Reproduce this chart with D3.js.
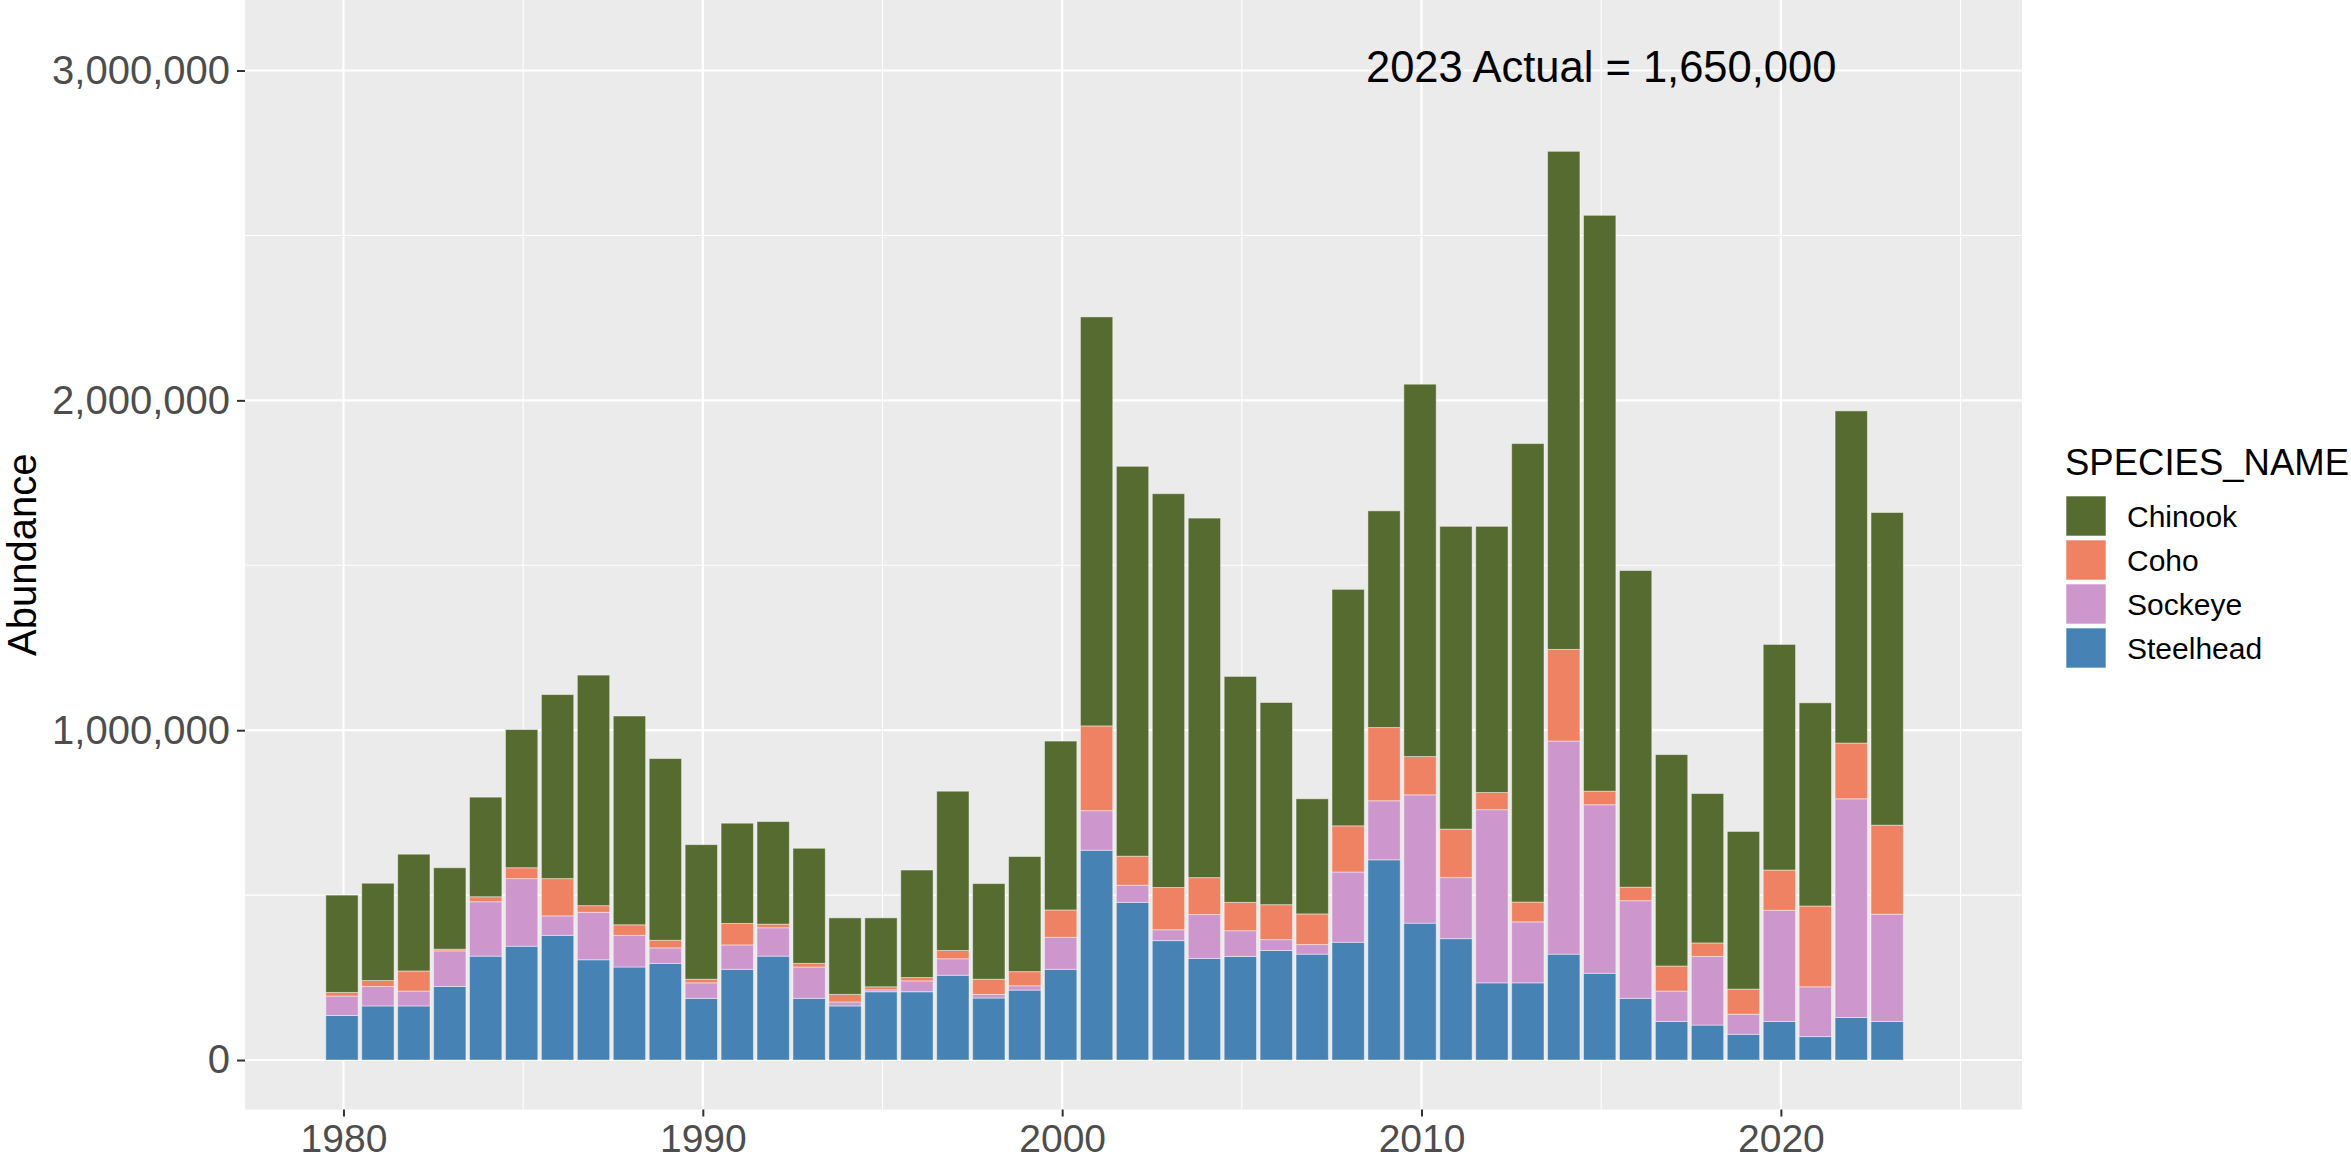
<!DOCTYPE html>
<html>
<head>
<meta charset="utf-8">
<script src="https://cdn.jsdelivr.net/npm/d3@7"></script>
<style>
html,body{margin:0;padding:0;background:#fff;overflow:hidden;}
svg{display:block;font-family:"Liberation Sans",Arial,Helvetica,sans-serif;}
</style>
</head>
<body>
<svg id="chart" width="2351" height="1164"></svg>
<script>
const years = [1980,1981,1982,1983,1984,1985,1986,1987,1988,1989,
  1990,1991,1992,1993,1994,1995,1996,1997,1998,1999,
  2000,2001,2002,2003,2004,2005,2006,2007,2008,2009,
  2010,2011,2012,2013,2014,2015,2016,2017,2018,2019,
  2020,2021,2022,2023];
// values in fish
const steelhead = [135,164,164,223,315,345,378,304,282,293,
  187,275,315,187,164,207,207,257,188,212,
  275,636,478,362,308,314,332,321,357,607,
  415,368,234,234,321,263,187,117,106,78,
  117,71,129,117].map(v=>v*1000);
const sockeye = [59,59,45,108,165,205,59,144,96,47,
  47,74,86,95,12,6,33,50,11,13,
  97,120,52,33,133,78,33,29,213,179,
  389,185,525,185,646,511,296,92,208,61,
  337,151,663,325].map(v=>v*1000);
const coho = [11,18,61,5,15,33,113,20,32,23,
  11,65,11,11,23,9,10,25,46,43,
  83,257,88,128,112,86,106,93,140,222,
  116,147,52,60,278,41,41,76,41,76,
  122,245,169,270].map(v=>v*1000);
const chinook = [295,295,354,247,302,419,558,699,633,551,
  408,304,311,349,232,209,326,483,290,349,
  512,1240,1182,1194,1090,685,613,349,717,657,
  1129,918,807,1390,1510,1746,960,641,453,478,
  684,616,1007,948].map(v=>v*1000);
const species = ["Chinook","Coho","Sockeye","Steelhead"];
const speciesColors = ["#556B2F","#EE8262","#CD96CD","#4682B4"];
const yTicks = [0,1000000,2000000,3000000];
const yMinor = [500000,1500000,2500000];
const xTicks = [1980,1990,2000,2010,2020];
const xMinor = [1985,1995,2005,2015,2025];
const annotation = "2023 Actual = 1,650,000";
const annotationX = 2015;
const annotationY = 3000000;

const table = years.map((y,i)=>({year:y, Chinook:chinook[i], Coho:coho[i], Sockeye:sockeye[i], Steelhead:steelhead[i]}));

const svg = d3.select("#chart");
const panel = {left:245, right:2022, top:0, bottom:1109.5};

const x = d3.scaleLinear().domain([1977.26, 2026.71]).range([panel.left, panel.right]);
const y = d3.scaleLinear().domain([-150000, 3213800]).range([panel.bottom, panel.top]);
const color = d3.scaleOrdinal().domain(species).range(speciesColors);

svg.append("rect").attr("x",panel.left).attr("y",panel.top)
  .attr("width",panel.right-panel.left).attr("height",panel.bottom-panel.top)
  .attr("fill","#EBEBEB");

const grid = svg.append("g");
yMinor.forEach(v=>grid.append("line").attr("x1",panel.left).attr("x2",panel.right)
  .attr("y1",y(v)).attr("y2",y(v)).attr("stroke","#fff").attr("stroke-width",1.1));
xMinor.forEach(v=>{ if (x(v)<panel.right) grid.append("line").attr("y1",panel.top).attr("y2",panel.bottom)
  .attr("x1",x(v)).attr("x2",x(v)).attr("stroke","#fff").attr("stroke-width",1.1);});
yTicks.forEach(v=>grid.append("line").attr("x1",panel.left).attr("x2",panel.right)
  .attr("y1",y(v)).attr("y2",y(v)).attr("stroke","#fff").attr("stroke-width",2.2));
xTicks.forEach(v=>grid.append("line").attr("y1",panel.top).attr("y2",panel.bottom)
  .attr("x1",x(v)).attr("x2",x(v)).attr("stroke","#fff").attr("stroke-width",2.2));

const stackKeys = ["Steelhead","Sockeye","Coho","Chinook"];
const series = d3.stack().keys(stackKeys)(table);
const bw = x(1980.45) - x(1979.55);

svg.append("g").selectAll("g").data(series).join("g")
  .attr("fill", d=>color(d.key))
  .selectAll("rect").data(d=>d).join("rect")
  .attr("x", d=>x(d.data.year)-bw/2 - 1.5)
  .attr("width", bw)
  .attr("y", d=>y(d[1]))
  .attr("height", d=>y(d[0])-y(d[1]))
  .attr("stroke","rgba(255,255,255,0.45)")
  .attr("stroke-width",1);

// annotation
svg.append("text").attr("x",x(annotationX)).attr("y",y(annotationY)+11)
  .attr("text-anchor","middle").attr("font-size",43.5).attr("fill","#000")
  .text(annotation);

// axes
const xAxis = d3.axisBottom(x).tickValues(xTicks).tickFormat(d3.format("d")).tickSize(7).tickPadding(8);
const gx = svg.append("g").attr("transform",`translate(0,${panel.bottom})`).call(xAxis);
gx.select(".domain").remove();
gx.selectAll(".tick line").attr("stroke","#333").attr("stroke-width",2);
gx.selectAll(".tick text").attr("font-size",39).attr("fill","#4D4D4D").attr("font-family","Liberation Sans, Arial, sans-serif");

const yAxis = d3.axisLeft(y).tickValues(yTicks).tickFormat(d3.format(",")).tickSize(8).tickPadding(7);
const gy = svg.append("g").attr("transform",`translate(${panel.left},0)`).call(yAxis);
gy.select(".domain").remove();
gy.selectAll(".tick line").attr("stroke","#333").attr("stroke-width",2);
gy.selectAll(".tick text").attr("font-size",40).attr("fill","#4D4D4D").attr("font-family","Liberation Sans, Arial, sans-serif");

svg.append("text").attr("transform",`translate(36,${(panel.top+panel.bottom)/2}) rotate(-90)`)
  .attr("text-anchor","middle").attr("font-size",40).attr("fill","#000").text("Abundance");

// legend
const lg = svg.append("g");
lg.append("text").attr("x",2065).attr("y",475).attr("font-size",36.5).attr("fill","#000").text("SPECIES_NAME");
species.forEach((s,i)=>{
  const ky = 496 + i*44;
  lg.append("rect").attr("x",2066).attr("y",ky).attr("width",40).attr("height",40)
    .attr("fill",color(s)).attr("stroke","rgba(255,255,255,0.6)").attr("stroke-width",1);
  lg.append("text").attr("x",2127).attr("y",ky+20).attr("dy","0.35em")
    .attr("font-size",30).attr("fill","#000").text(s);
});
</script>
</body>
</html>
